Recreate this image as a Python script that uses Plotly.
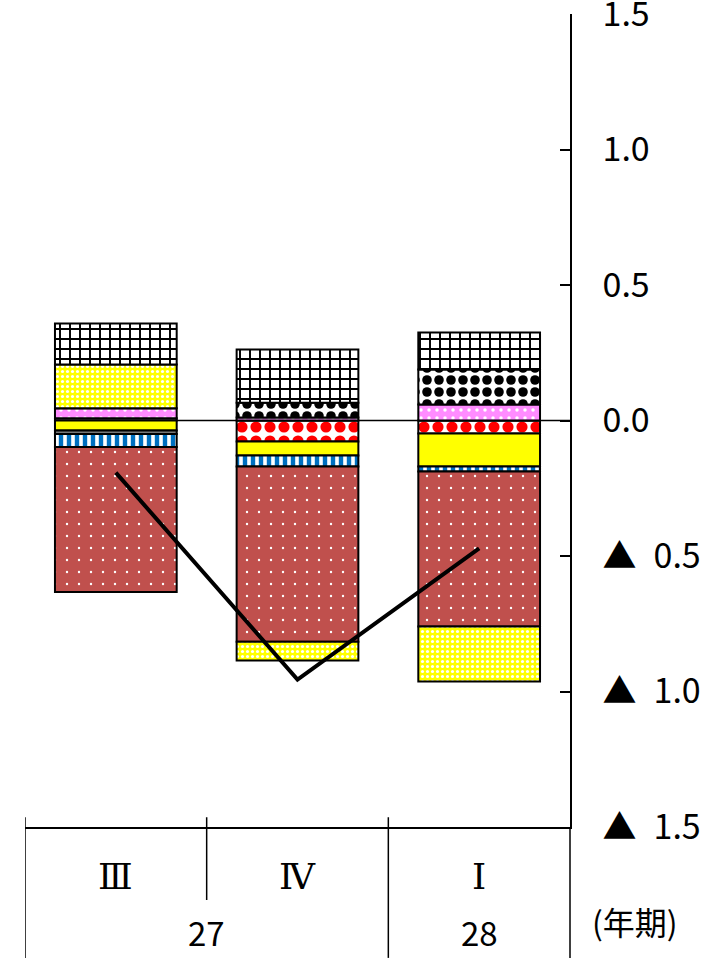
import plotly.graph_objects as go

# ---- data ----
quarters = ["Ⅲ", "Ⅳ", "Ⅰ"]
years = ["27", "28"]
year_pos = [0.5, 2]

s_red_checker = [0.008, -0.077, -0.048]
s_yellow = [-0.037, -0.052, -0.122]
s_gray = [-0.013, 0.0, 0.0]
s_blue = [-0.048, -0.041, -0.018]
s_brown = [-0.535, -0.646, -0.572]
s_pink = [0.037, 0.011, 0.059]
s_circles = [0.0, 0.055, 0.129]
s_yel_check = [0.162, -0.070, -0.203]
s_grid = [0.151, 0.196, 0.137]
line_total = [-0.192, -0.956, -0.472]

tick_vals = [-1.5, -1.0, -0.5, 0.0, 0.5, 1.0, 1.5]
tick_text = ["▲\u20021.5", "▲\u20021.0", "▲\u20020.5", "0.0", "0.5", "1.0", "1.5"]

FONT = "Noto Sans CJK JP"
SERIF = "DejaVu Serif"

fig = go.Figure()

def add_bar(name, vals, color, shape="", fg=None, bg=None, size=8, solidity=0.3):
    pattern = dict(shape=shape)
    if shape:
        pattern.update(fgcolor=fg, bgcolor=bg, size=size, solidity=solidity, fillmode="replace")
    fig.add_trace(go.Bar(
        name=name, x=quarters, y=vals,
        marker=dict(color=color, line=dict(color="black", width=2), pattern=pattern),
        width=0.67,
    ))

add_bar("赤チェック", s_red_checker, "white", ".", "#FF0000", "white", 14, 0.5)
add_bar("黄", s_yellow, "#FFFF00")
add_bar("灰", s_gray, "white", "-", "#555555", "white", 4, 0.4)
add_bar("青", s_blue, "white", "|", "#0070C0", "white", 8, 0.55)
add_bar("茶", s_brown, "#C0504D", ".", "white", "#C0504D", 12, 0.03)
add_bar("桃", s_pink, "#FF8CFF", ".", "white", "#FF8CFF", 8, 0.15)
add_bar("黒丸", s_circles, "white", ".", "black", "white", 12, 0.5)
add_bar("黄チェック", s_yel_check, "#FFFF00", ".", "white", "#FFFF00", 5, 0.3)
add_bar("格子", s_grid, "white", "+", "black", "white", 10, 0.35)

fig.add_trace(go.Scatter(
    x=quarters, y=line_total, mode="lines",
    line=dict(color="black", width=4), name="合計",
))

# zero line (below bars)
fig.add_shape(type="line", xref="x", yref="y", x0=0, x1=2.5, y0=0, y1=0,
              line=dict(color="black", width=1.5), layer="below")

# category table lines
for xv, ybot in [(-0.5, -0.161), (0.5, -0.0898), (1.5, -0.161)]:
    fig.add_shape(type="line", xref="x", yref="paper", x0=xv, x1=xv, y0=0.012, y1=ybot,
                  line=dict(color="black", width=1.5))
# right axis extension
fig.add_shape(type="line", xref="paper", yref="paper", x0=1, x1=1, y0=0, y1=-0.161,
              line=dict(color="black", width=1.5))

for q in quarters:
    fig.add_annotation(x=q, y=-0.0615, xref="x", yref="paper", text=q, showarrow=False,
                       xanchor="center", yanchor="middle",
                       font=dict(family=SERIF, size=36, color="black"))
for yr, xp in zip(years, year_pos):
    fig.add_annotation(x=xp, y=-0.129, xref="x", yref="paper", text=yr, showarrow=False,
                       xanchor="center", yanchor="middle", height=38,
                       font=dict(family=FONT, size=33, color="black"))
fig.add_annotation(x=1.119, y=-0.1156, xref="paper", yref="paper", text="(年期)",
                   showarrow=False, xanchor="center", yanchor="middle",
                   font=dict(family=FONT, size=32, color="black"))

fig.update_layout(
    width=724, height=958,
    margin=dict(l=25, r=154, t=14, b=131, autoexpand=False),
    barmode="relative",
    showlegend=False,
    plot_bgcolor="white", paper_bgcolor="white",
    xaxis=dict(type="category", range=[-0.5, 2.5], showticklabels=False,
               showline=True, linecolor="black", linewidth=1.5, automargin=False,
               ticks="", showgrid=False, zeroline=False),
    yaxis=dict(side="right", range=[-1.5, 1.5002], tickvals=tick_vals, ticktext=tick_text,
               showline=True, linecolor="black", linewidth=1.5, automargin=False,
               ticks="inside", ticklen=10, tickwidth=1.5, tickcolor="black",
               showgrid=False, zeroline=False, ticklabelstandoff=24,
               ticklabeloverflow="allow",
               tickfont=dict(family=FONT, size=34, color="black")),
)

fig.write_html("out.html", post_script="document.body.style.margin='0px';",
               config={"displayModeBar": False})
